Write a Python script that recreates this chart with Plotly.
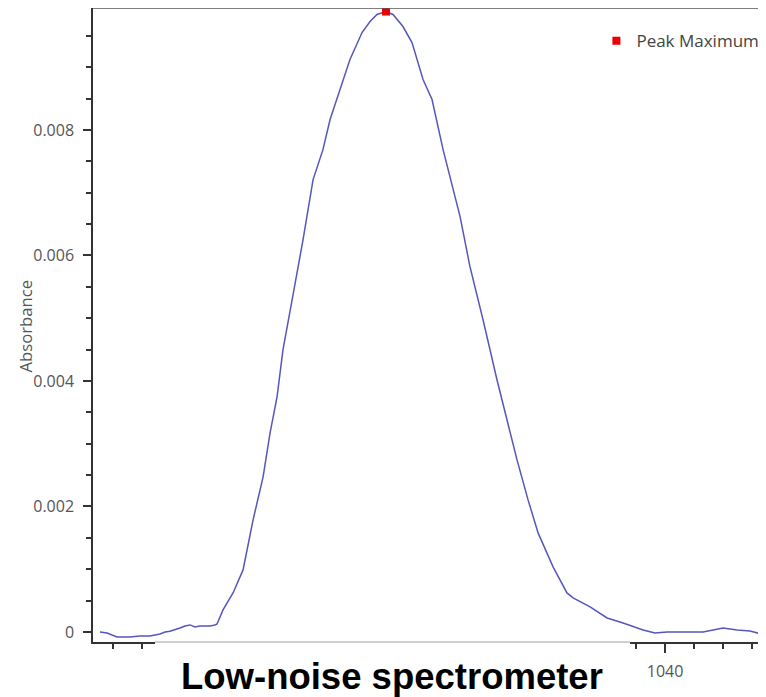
import plotly.graph_objects as go

# Spectrum (wavenumber, absorbance)
wavenumber = [1001.10, 1001.59, 1002.27, 1003.16, 1003.86, 1004.54, 1005.23, 1005.58, 1005.92,
              1006.26, 1006.61, 1006.95, 1007.30, 1007.64, 1007.99, 1008.33, 1008.68, 1009.02,
              1009.16, 1009.57, 1010.26, 1010.95, 1011.64, 1012.33, 1012.81, 1013.29, 1013.70,
              1014.33, 1015.08, 1015.77, 1016.45, 1016.94, 1017.62, 1018.31, 1019.14, 1019.69,
              1020.17, 1020.79, 1021.27, 1021.96, 1022.58, 1023.34, 1023.96, 1024.72, 1025.89,
              1026.57, 1027.47, 1028.43, 1029.81, 1030.57, 1031.26, 1032.29, 1033.25, 1033.67,
              1034.84, 1036.01, 1037.11, 1038.49, 1039.31, 1040.14, 1041.24, 1042.62, 1043.30,
              1044.00, 1044.96, 1045.85, 1046.88]
absorbance = [0.000000, -0.000016, -0.000080, -0.000080, -0.000064, -0.000064, -0.000032, 0.000000, 0.000010,
              0.000032, 0.000064, 0.000096, 0.000112, 0.000080, 0.000096, 0.000096, 0.000096, 0.000112,
              0.000128, 0.000351, 0.000622, 0.000989, 0.001786, 0.002472, 0.003174, 0.003748, 0.004498,
              0.005295, 0.006252, 0.007209, 0.007687, 0.008166, 0.008644, 0.009123, 0.009553, 0.009729,
              0.009841, 0.009888, 0.009841, 0.009649, 0.009394, 0.008804, 0.008485, 0.007687, 0.006619,
              0.005821, 0.004976, 0.004019, 0.002743, 0.002105, 0.001579, 0.001037, 0.000622, 0.000542,
              0.000399, 0.000223, 0.000144, 0.000032, -0.000016, 0.000000, 0.000000, 0.000000, 0.000032,
              0.000064, 0.000032, 0.000016, -0.000048]

peak_x = [1020.79]
peak_y = [0.009888]

y_tickvals = [0, 0.002, 0.004, 0.006, 0.008]
y_ticktext = ["0", "0.002", "0.004", "0.006", "0.008"]
x_tickvals = [1040]          # the other labelled ticks are hidden behind the caption panel
x_ticktext = ["1040"]

x_range = [1000.62, 1046.95]
y_range = [-0.00016, 0.009944]

font_family = "Open Sans, Noto Sans, sans-serif"

fig = go.Figure()
fig.add_trace(go.Scatter(x=wavenumber, y=absorbance, mode="lines",
                         line=dict(color="#5656bc", width=1.5), showlegend=False))
fig.add_trace(go.Scatter(x=peak_x, y=peak_y, mode="markers", name="Peak Maximum",
                         marker=dict(color="#ee0000", symbol="square", size=8)))

# page body has an 8px margin, so the figure is 8px smaller than the window
fig.update_layout(
    width=758, height=689,
    margin=dict(l=85, r=0, t=0, b=55),
    paper_bgcolor="white", plot_bgcolor="white",
    font=dict(family=font_family, size=16, color="#555555"),
    legend=dict(x=0.748, y=0.976, xanchor="left", yanchor="top",
                bgcolor="rgba(0,0,0,0)", font=dict(size=17, color="#444444"),
                itemwidth=30),
    xaxis=dict(range=x_range, showgrid=False, zeroline=False,
               showline=True, linecolor="#333333", linewidth=1.5,
               ticks="outside", ticklen=9, tickwidth=1.5, tickcolor="#333333",
               tickvals=x_tickvals, ticktext=x_ticktext, ticklabelstandoff=5,
               tickfont=dict(size=16, color="#555555"),
               minor=dict(ticks="outside", ticklen=5, tickwidth=1.5, tickcolor="#333333",
                          tick0=1000, dtick=2)),
    yaxis=dict(range=y_range, showgrid=False, zeroline=False,
               showline=True, linecolor="#333333", linewidth=1.5,
               ticks="outside", ticklen=8, tickwidth=1.5, tickcolor="#333333",
               tickvals=y_tickvals, ticktext=y_ticktext, ticklabelstandoff=6,
               tickfont=dict(size=16, color="#555555"),
               minor=dict(ticks="outside", ticklen=5, tickwidth=1.5, tickcolor="#333333",
                          tick0=0, dtick=0.0005)),
)

# top frame line
fig.add_shape(type="line", xref="paper", yref="paper", x0=0, x1=1, y0=1, y1=1,
              line=dict(color="#555555", width=1.5), layer="above")
# white caption panel covering the middle of the x axis
fig.add_shape(type="rect", xref="paper", yref="paper", x0=0.0921, x1=0.798, y0=-0.2, y1=0,
              fillcolor="white", line=dict(width=0), layer="above")
fig.add_shape(type="line", xref="paper", yref="paper", x0=0.0921, x1=0.798, y0=0, y1=0,
              line=dict(color="#a0a0a0", width=1), layer="above")

fig.add_annotation(text="Absorbance", xref="paper", yref="paper",
                   x=(25.5 - 93) / 673, y=0.4984, xanchor="center", yanchor="middle",
                   textangle=-90, showarrow=False,
                   font=dict(family=font_family, size=16.7, color="#555555"))
fig.add_annotation(text="<b>Low-noise spectrometer</b>", xref="paper", yref="paper",
                   x=0.445, y=-0.0537, xanchor="center", yanchor="middle",
                   showarrow=False,
                   font=dict(family="Liberation Sans, Arial, sans-serif", size=36.5, color="black"))

fig.write_html("out.html")
